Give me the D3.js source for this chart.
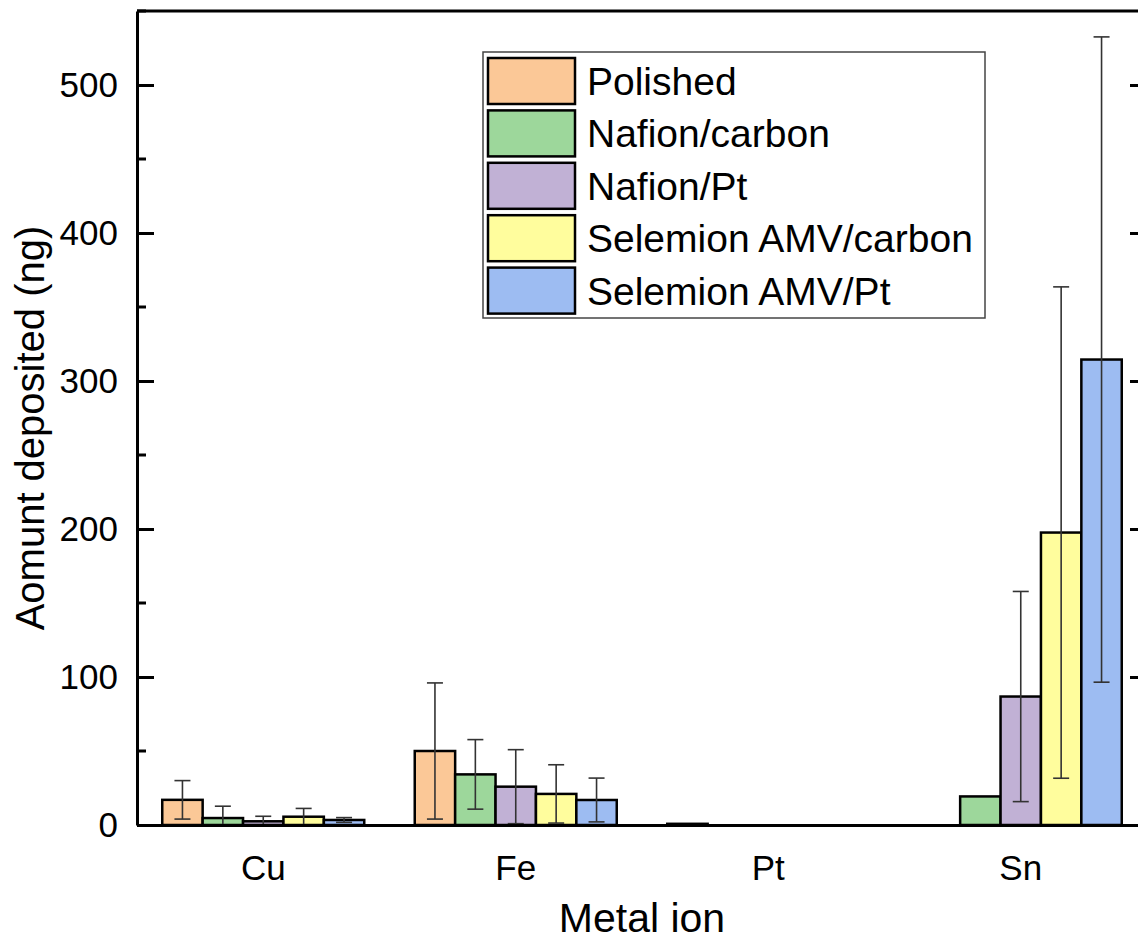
<!DOCTYPE html>
<html>
<head>
<meta charset="utf-8">
<script src="https://cdn.jsdelivr.net/npm/d3@7"></script>
<style>
  body { margin: 0; background: #fff; }
  svg { display: block; font-family: "Liberation Sans", Arial, sans-serif; }
</style>
</head>
<body>
<svg id="chart" width="1138" height="939"></svg>
<script>
// data (ng)
var metals = ["Cu", "Fe", "Pt", "Sn"];
var seriesNames = ["Polished", "Nafion/carbon", "Nafion/Pt", "Selemion AMV/carbon", "Selemion AMV/Pt"];
var polished       = [17.0, 50.0, 0.8, 0];
var nafionCarbon   = [4.7, 34.2, 0, 19.3];
var nafionPt       = [2.5, 25.9, 0, 86.8];
var selemionCarbon = [5.6, 21.0, 0, 197.6];
var selemionPt     = [3.4, 16.9, 0, 314.5];
var polishedErr       = [13.0, 46.0, 0, 0];
var nafionCarbonErr   = [8.0, 23.5, 0, 0];
var nafionPtErr       = [3.4, 25.0, 0, 71.0];
var selemionCarbonErr = [5.6, 19.7, 0, 166.0];
var selemionPtErr     = [1.6, 14.8, 0, 218.0];
var colors = ["#fbc897", "#9dd79b", "#c1b1d5", "#fffd9d", "#9dbcf2"];
var yTicks = [0, 100, 200, 300, 400, 500];

var values = [polished, nafionCarbon, nafionPt, selemionCarbon, selemionPt];
var errs = [polishedErr, nafionCarbonErr, nafionPtErr, selemionCarbonErr, selemionPtErr];

var svg = d3.select("#chart");
// note: "top" is a reserved window prop, so use prefixed names
var pLeft = 137, pRight = 1147, pTop = 11, pBottom = 825;

var x = d3.scaleBand().domain(metals).range([pLeft, pRight]).padding(0);
var step = x.bandwidth();
var xs = d3.scaleBand().domain(seriesNames).range([0.1 * step, 0.9 * step]).padding(0);
var y = d3.scaleLinear().domain([0, 550]).range([pBottom, pTop]);

// flatten to one record per bar
var bars = [];
seriesNames.forEach(function(s, i) {
  metals.forEach(function(m, j) {
    bars.push({series: s, idx: i, metal: m, v: values[i][j], e: errs[i][j]});
  });
});

var g = svg.append("g");

g.selectAll(".bar")
  .data(bars.filter(function(d) { return d.v > 0; }))
  .enter().append("rect")
  .attr("class", "bar")
  .attr("x", function(d) { return x(d.metal) + xs(d.series); })
  .attr("width", xs.bandwidth())
  .attr("y", function(d) { return y(d.v); })
  .attr("height", function(d) { return y(0) - y(d.v); })
  .style("fill", function(d) { return colors[d.idx]; })
  .style("stroke", "#000")
  .style("stroke-width", 2.5);

// error bars
var eb = g.selectAll(".err")
  .data(bars.filter(function(d) { return d.e > 0; }))
  .enter().append("g")
  .attr("class", "err")
  .attr("transform", function(d) { return "translate(" + (x(d.metal) + xs(d.series) + xs.bandwidth() / 2) + ",0)"; })
  .style("stroke", "#333")
  .style("stroke-width", 1.6);
eb.append("line")
  .attr("y1", function(d) { return y(d.v + d.e); })
  .attr("y2", function(d) { return y(Math.max(0, d.v - d.e)); });
eb.append("line")
  .attr("x1", -8).attr("x2", 8)
  .attr("y1", function(d) { return y(d.v + d.e); })
  .attr("y2", function(d) { return y(d.v + d.e); });
eb.append("line")
  .attr("x1", -8).attr("x2", 8)
  .attr("y1", function(d) { return y(Math.max(0, d.v - d.e)); })
  .attr("y2", function(d) { return y(Math.max(0, d.v - d.e)); });

// axes
var minor = d3.range(50, 551, 100);

var yLeft = svg.append("g").attr("transform", "translate(" + pLeft + ",0)")
  .call(d3.axisLeft(y).tickValues(yTicks).tickSize(-17).tickSizeOuter(0).tickPadding(19).tickFormat(d3.format("d")));
yLeft.append("g").selectAll("line").data(minor).enter().append("line")
  .attr("x2", 9).attr("y1", y).attr("y2", y).style("stroke", "#000");

var yRight = svg.append("g").attr("transform", "translate(" + pRight + ",0)")
  .call(d3.axisRight(y).tickValues(yTicks).tickSize(-17).tickSizeOuter(0).tickFormat(""));
yRight.append("g").selectAll("line").data(minor).enter().append("line")
  .attr("x2", -9).attr("y1", y).attr("y2", y).style("stroke", "#000");

var xAxis = svg.append("g").attr("transform", "translate(0," + pBottom + ")")
  .call(d3.axisBottom(x).tickSize(0).tickSizeOuter(0));
xAxis.selectAll("text").attr("y", 55).attr("dy", 0);

svg.selectAll(".domain, .tick line").style("stroke", "#000").style("stroke-width", 3);
yLeft.selectAll("line").style("stroke-width", 3);
yRight.selectAll("line").style("stroke-width", 3);
svg.selectAll(".tick text").style("font-size", "35px").style("fill", "#000").style("font-family", "'Liberation Sans', Arial, sans-serif");

// frame
svg.append("line").attr("x1", pLeft).attr("x2", pRight).attr("y1", pTop).attr("y2", pTop)
  .style("stroke", "#000").style("stroke-width", 3);

// titles
svg.append("text")
  .attr("transform", "translate(44," + ((pTop + pBottom) / 2 + 10) + ") rotate(-90)")
  .attr("text-anchor", "middle")
  .style("font-size", "40px")
  .text("Aomunt deposited (ng)");
svg.append("text")
  .attr("x", (pLeft + pRight) / 2).attr("y", 932)
  .attr("text-anchor", "middle")
  .style("font-size", "41px")
  .text("Metal ion");

// legend
var legend = svg.append("g").attr("transform", "translate(483,52)");
legend.append("rect").attr("width", 502).attr("height", 266)
  .style("fill", "#fff").style("stroke", "#444").style("stroke-width", 1.5);
var item = legend.selectAll(".item").data(seriesNames).enter().append("g")
  .attr("class", "item")
  .attr("transform", function(d, i) { return "translate(5," + (6 + i * 52.4) + ")"; });
item.append("rect").attr("width", 87).attr("height", 46)
  .style("fill", function(d, i) { return colors[i]; })
  .style("stroke", "#000").style("stroke-width", 2.5);
item.append("text").attr("x", 99).attr("y", 37)
  .style("font-size", "39px")
  .text(function(d) { return d; });
</script>
</body>
</html>
